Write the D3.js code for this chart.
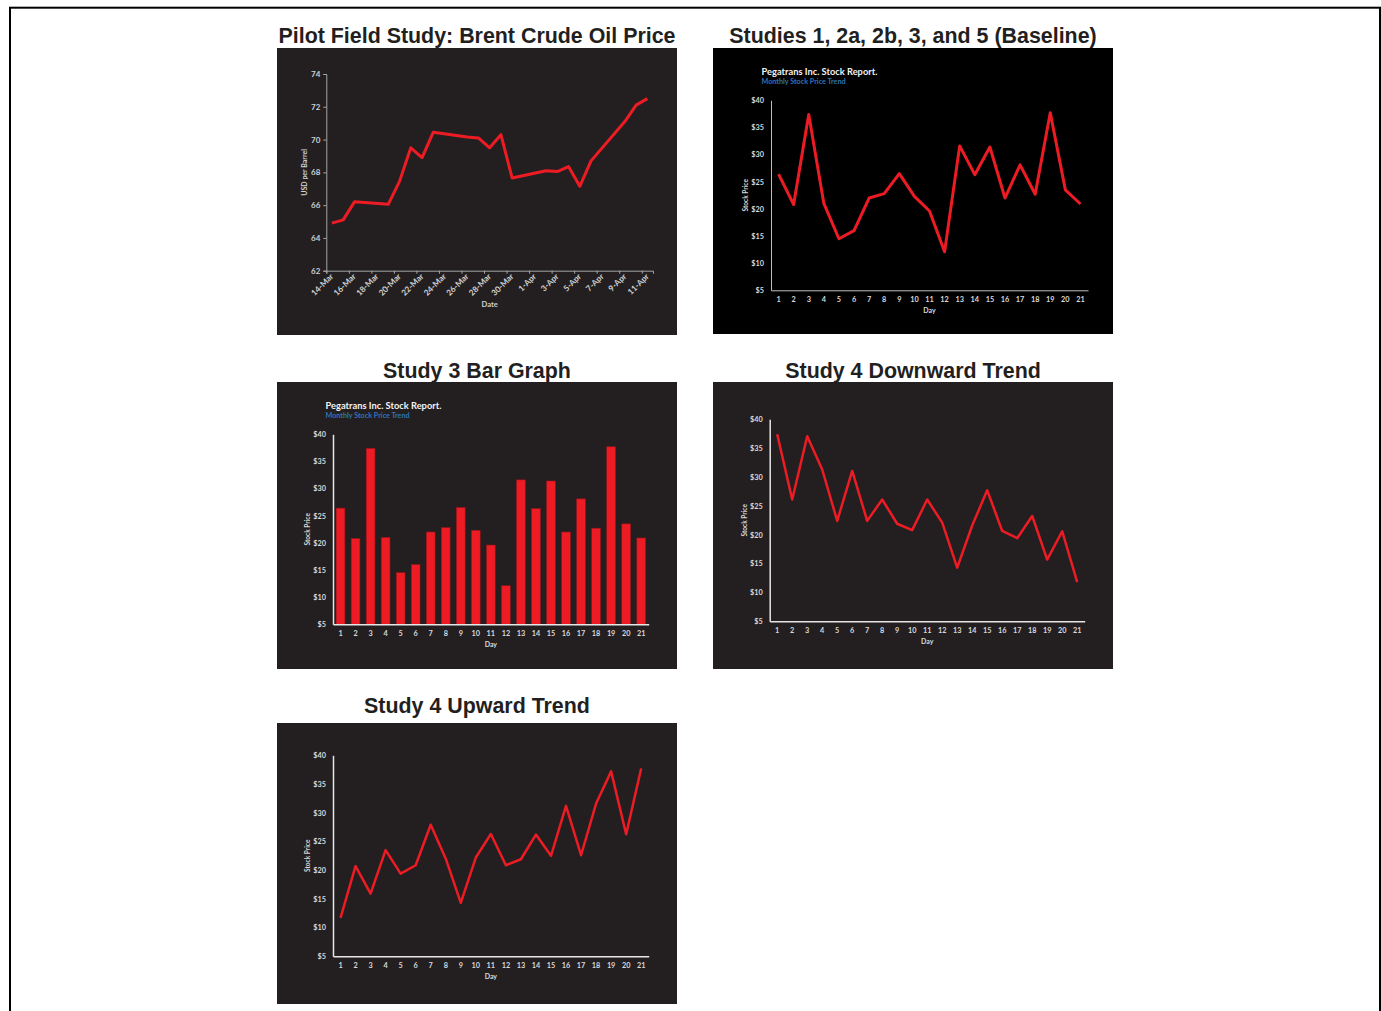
<!DOCTYPE html>
<html>
<head>
<meta charset="utf-8">
<script src="https://cdn.jsdelivr.net/npm/d3@7"></script>
<style>
  body { margin: 0; background: #fff; }
  svg { display: block; }
  .title { font-family: "Liberation Sans", Arial, sans-serif; font-weight: bold; font-size: 21.4px; fill: #231f20; text-anchor: middle; }
</style>
</head>
<body>
<svg id="main" width="1381" height="1011"></svg>
<script>
// ---- data ----
var oilDates = ['2018-03-14', '2018-03-15', '2018-03-16', '2018-03-19', '2018-03-20', '2018-03-21',
    '2018-03-22', '2018-03-23', '2018-03-26', '2018-03-27', '2018-03-28', '2018-03-29', '2018-03-30',
    '2018-04-02', '2018-04-03', '2018-04-04', '2018-04-05', '2018-04-06', '2018-04-09', '2018-04-10',
    '2018-04-11'];
var oilPrices = [64.9, 65.1, 66.2, 66.05, 67.45, 69.5, 68.9, 70.45, 70.15, 70.1, 69.5, 70.3, 67.65,
    68.1, 68.05, 68.35, 67.15, 68.7, 71.1, 72.1, 72.5];
var oilTickDates = ['2018-03-14', '2018-03-16', '2018-03-18', '2018-03-20', '2018-03-22', '2018-03-24',
    '2018-03-26', '2018-03-28', '2018-03-30', '2018-04-01', '2018-04-03', '2018-04-05', '2018-04-07',
    '2018-04-09', '2018-04-11'];
var oilTicks = [62, 64, 66, 68, 70, 72, 74];

var days = [1, 2, 3, 4, 5, 6, 7, 8, 9, 10, 11, 12, 13, 14, 15, 16, 17, 18, 19, 20, 21];
var baselinePrices = [26.4, 20.8, 37.4, 21.0, 14.5, 16.0, 22.0, 22.8, 26.5, 22.3, 19.6, 12.1, 31.6,
    26.3, 31.4, 22.0, 28.1, 22.7, 37.7, 23.5, 20.9];
var downwardPrices = [37.4, 26.1, 37.05, 31.3, 22.4, 31.05, 22.4, 26.1, 21.9, 20.8, 26.1, 22.1, 14.3,
    21.6, 27.7, 20.65, 19.4, 23.25, 15.7, 20.6, 11.8];
var upwardPrices = [11.7, 20.7, 15.9, 23.5, 19.4, 20.85, 27.9, 22.0, 14.3, 22.2, 26.3, 20.85, 21.9,
    26.2, 22.5, 31.2, 22.6, 31.6, 37.2, 26.25, 37.7];
var priceTicks = [5, 10, 15, 20, 25, 30, 35, 40];

var RED = '#ed1c24';
var FONT = 'Lato, "Open Sans", sans-serif';

var svg = d3.select('svg#main');

// outer frame, its bottom edge runs off the page
svg.append('rect')
    .attr('x', 10).attr('y', 7.7).attr('width', 1370).attr('height', 1100)
    .attr('fill', 'none').attr('stroke', '#000').attr('stroke-width', 2);

function panel(p) {
    svg.append('text').attr('class', 'title')
        .attr('x', p.x + p.w / 2).attr('y', p.titleY)
        .text(p.title);
    var g = svg.append('g').attr('transform', 'translate(' + p.x + ',' + p.y + ')');
    g.append('rect').attr('width', p.w).attr('height', p.h).attr('fill', p.bg);
    return g;
}

function styleAxis(sel, color, size) {
    sel.attr('font-family', FONT).attr('font-size', size).attr('font-weight', 'bold');
    sel.selectAll('text').attr('fill', color);
    sel.selectAll('line').attr('stroke', color);
}

// ---- pilot: brent crude ----
function drawOil() {
    var g = panel({ title: 'Pilot Field Study: Brent Crude Oil Price', x: 277, y: 48, w: 400, h: 287,
        titleY: 43, bg: '#231f20' });
    var parse = d3.utcParse('%Y-%m-%d');
    var fmt = d3.utcFormat('%-d-%b');
    var data = oilDates.map(function (d, i) { return { date: parse(d), price: oilPrices[i] }; });
    var ticks = oilTickDates.map(parse);
    var axisCol = '#a6a6a6', textCol = '#d0d0d0';

    var x = d3.scaleUtc()
        .domain([d3.utcHour.offset(data[0].date, -12), d3.utcHour.offset(data[data.length - 1].date, 12)])
        .range([49.3, 376]);
    var y = d3.scaleLinear().domain([62, 74]).range([222.7, 26]);

    var yAxis = g.append('g').attr('transform', 'translate(49.3,0)')
        .call(d3.axisLeft(y).tickValues(oilTicks).tickSize(3).tickPadding(3));
    styleAxis(yAxis, textCol, 8);
    yAxis.select('.domain').attr('stroke', axisCol);
    yAxis.selectAll('line').attr('stroke', axisCol);

    var xAxis = g.append('g').attr('transform', 'translate(0,222.7)')
        .call(d3.axisBottom(x)
            .tickValues(ticks.map(function (d) { return d3.utcHour.offset(d, -12); }))
            .tickSize(3).tickFormat(''));
    xAxis.select('.domain').attr('stroke', axisCol);
    xAxis.selectAll('line').attr('stroke', axisCol);

    g.append('g').selectAll('text')
        .data(ticks)
        .join('text')
        .attr('transform', function (d) { return 'translate(' + (x(d) + 2) + ',229) rotate(-45)'; })
        .attr('text-anchor', 'end')
        .attr('font-family', FONT).attr('font-size', 8.2).attr('font-weight', 'bold')
        .attr('fill', textCol)
        .text(fmt);

    g.append('text')
        .attr('x', (49.3 + 376) / 2).attr('y', 258.5)
        .attr('text-anchor', 'middle')
        .attr('font-family', FONT).attr('font-size', 7.5).attr('font-weight', 'bold')
        .attr('fill', textCol).text('Date');

    g.append('text')
        .attr('transform', 'translate(30,' + (26 + 222.7) / 2 + ') rotate(-90)')
        .attr('text-anchor', 'middle')
        .attr('font-family', FONT).attr('font-size', 7).attr('font-weight', 'bold')
        .attr('fill', textCol).text('USD per Barrel');

    g.append('path')
        .datum(data)
        .attr('fill', 'none').attr('stroke', RED).attr('stroke-width', 3)
        .attr('stroke-linejoin', 'round')
        .attr('d', d3.line()
            .x(function (d) { return x(d.date); })
            .y(function (d) { return y(d.price); }));
}

// ---- stock report panels ----
function drawStock(p, values, opt) {
    var g = panel(p);
    var textCol = '#d9d9d9';

    var x = d3.scaleBand().domain(days).range([opt.left, opt.right])
        .paddingInner(0.42).paddingOuter(0.21);
    var y = d3.scaleLinear().domain([5, 40]).range([opt.bottom, opt.top]);

    if (opt.report) {
        g.append('text').attr('x', 48.5).attr('y', 26.5)
            .attr('font-family', FONT).attr('font-size', 9.3).attr('font-weight', 'bold')
            .attr('fill', '#f2f2f2').text('Pegatrans Inc. Stock Report.');
        g.append('text').attr('x', 48.5).attr('y', 35.5)
            .attr('font-family', FONT).attr('font-size', 7.2).attr('font-weight', 'bold')
            .attr('fill', '#2e75b6').text('Monthly Stock Price Trend');
    }

    if (opt.bars) {
        g.append('g').selectAll('rect')
            .data(values)
            .join('rect')
            .attr('x', function (d, i) { return x(days[i]); })
            .attr('y', function (d) { return y(d); })
            .attr('width', x.bandwidth())
            .attr('height', function (d) { return y(5) - y(d); })
            .attr('fill', RED)
            .attr('stroke', '#9e1419').attr('stroke-width', 0.6);
    } else {
        g.append('path')
            .datum(values)
            .attr('fill', 'none').attr('stroke', RED).attr('stroke-width', opt.lineWidth)
            .attr('stroke-linejoin', 'round')
            .attr('d', d3.line()
                .x(function (d, i) { return x(days[i]) + x.bandwidth() / 2; })
                .y(function (d) { return y(d); }));
    }

    var yAxis = g.append('g').attr('transform', 'translate(' + opt.left + ',0)')
        .call(d3.axisLeft(y).tickValues(priceTicks).tickSize(0).tickPadding(7)
            .tickFormat(function (d) { return '$' + d; }));
    styleAxis(yAxis, textCol, 7.3);
    yAxis.select('.domain').attr('stroke', opt.axisColor).attr('stroke-width', opt.axisWidth);

    var xAxis = g.append('g').attr('transform', 'translate(0,' + opt.bottom + ')')
        .call(d3.axisBottom(x).tickSize(0).tickPadding(7));
    styleAxis(xAxis, textCol, 7.3);
    xAxis.select('.domain').attr('stroke', opt.axisColor).attr('stroke-width', opt.axisWidth);

    g.append('text')
        .attr('x', (opt.left + opt.right) / 2).attr('y', opt.bottom + 23)
        .attr('text-anchor', 'middle')
        .attr('font-family', FONT).attr('font-size', 7).attr('font-weight', 'bold')
        .attr('fill', textCol).text('Day');

    g.append('text')
        .attr('transform', 'translate(' + (opt.left - 23) + ',' + (opt.top + opt.bottom) / 2 + ') rotate(-90)')
        .attr('text-anchor', 'middle')
        .attr('font-family', FONT).attr('font-size', 6.5).attr('font-weight', 'bold')
        .attr('fill', textCol).text('Stock Price');
}

drawOil();

drawStock({ title: 'Studies 1, 2a, 2b, 3, and 5 (Baseline)', x: 713, y: 48, w: 400, h: 286, titleY: 43, bg: '#000' },
    baselinePrices,
    { left: 58, right: 375, top: 52.3, bottom: 242.3, report: true, lineWidth: 3,
      axisColor: '#bfbfbf', axisWidth: 1 });

drawStock({ title: 'Study 3 Bar Graph', x: 277, y: 382, w: 400, h: 287, titleY: 378, bg: '#231f20' },
    baselinePrices,
    { left: 56, right: 371.7, top: 52.3, bottom: 242.3, report: true, bars: true,
      axisColor: '#e6e6e6', axisWidth: 1.5 });

drawStock({ title: 'Study 4 Downward Trend', x: 713, y: 382, w: 400, h: 287, titleY: 378, bg: '#231f20' },
    downwardPrices,
    { left: 56.7, right: 371.7, top: 37.3, bottom: 239.3, lineWidth: 2.5,
      axisColor: '#e6e6e6', axisWidth: 1.5 });

drawStock({ title: 'Study 4 Upward Trend', x: 277, y: 723, w: 400, h: 281, titleY: 712.7, bg: '#231f20' },
    upwardPrices,
    { left: 56, right: 371.7, top: 32.3, bottom: 233.3, lineWidth: 2.5,
      axisColor: '#e6e6e6', axisWidth: 1.5 });
</script>
</body>
</html>
